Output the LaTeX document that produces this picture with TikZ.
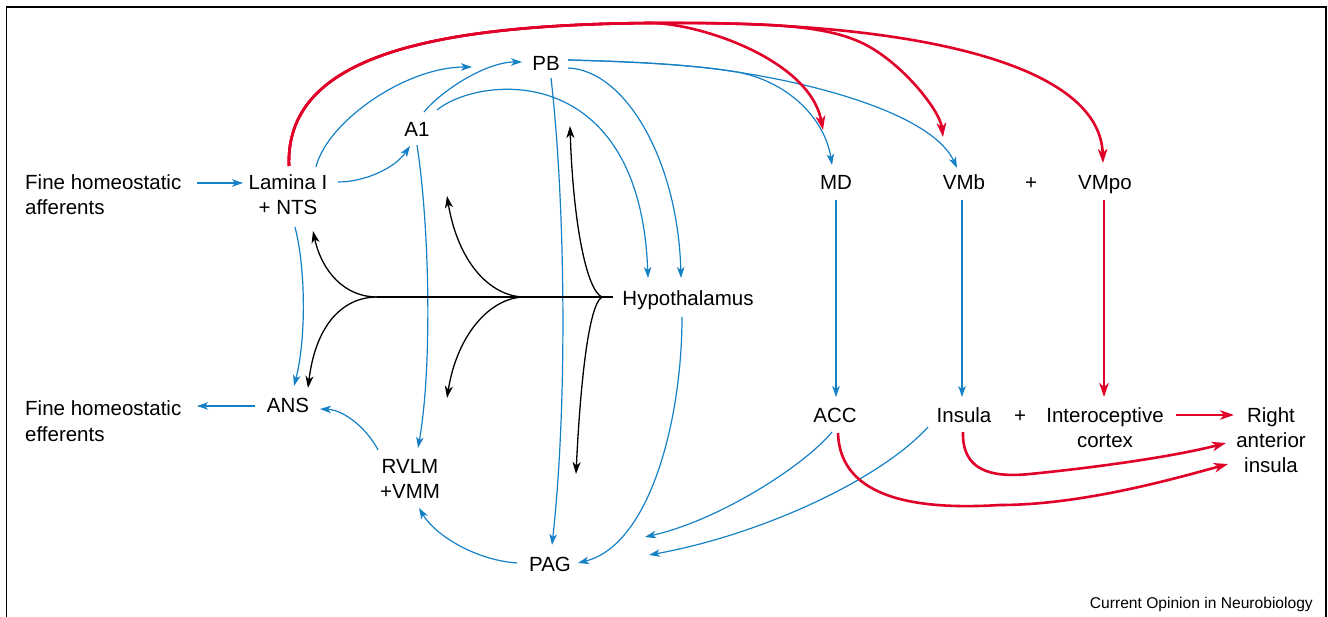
\documentclass[tikz,border=0pt]{standalone}
\usepackage{fontspec}
\setmainfont{Liberation Sans}
\usetikzlibrary{arrows.meta}
\definecolor{cblue}{RGB}{20,128,198}
\definecolor{cred}{RGB}{225,0,40}
\begin{document}
\begin{tikzpicture}[x=1pt,y=-1pt,
  lbl/.style={inner sep=0pt, font=\fontsize{20.5}{25}\selectfont, align=center},
  bl/.style={cblue, line width=1.2pt, -{Stealth[length=11pt,width=7.5pt,inset=3pt]}},
  rd/.style={cred, line width=2.6pt, -{Stealth[length=14pt,width=9.5pt,inset=4pt]}},
  bk/.style={black, line width=1.3pt, -{Stealth[length=12pt,width=8pt,inset=3.5pt]}},
  bkline/.style={black, line width=1.3pt},
  frame/.style={black, line width=1.4pt}
]
\useasboundingbox (0,0) rectangle (1328,617);
\draw[frame] (6.5,617) -- (6.5,7) -- (1326,7) -- (1326,617);

% nodes (base = baseline of the last line)
\node[lbl, align=left, anchor=base west] (fha) at (25,215) {Fine homeostatic\\afferents};
\node[lbl, anchor=base] (lam) at (288,215) {Lamina I\\+ NTS};
\node[lbl, anchor=base] (a1) at (417,137) {A1};
\node[lbl, anchor=base] (pb) at (546,71) {PB};
\node[lbl, anchor=base] (hyp) at (688,306) {Hypothalamus};
\node[lbl, anchor=base] (md) at (836,190) {MD};
\node[lbl, anchor=base] (vmb) at (964,190) {VMb};
\node[lbl, anchor=base] (plA) at (1031,190) {+};
\node[lbl, anchor=base] (vmpo) at (1105,190) {VMpo};
\node[lbl, align=left, anchor=base west] (fhe) at (25,441) {Fine homeostatic\\efferents};
\node[lbl, anchor=base] (ans) at (288,413) {ANS};
\node[lbl, anchor=base] (rvlm) at (410,498) {RVLM\\+VMM};
\node[lbl, anchor=base] (pag) at (550,571) {PAG};
\node[lbl, anchor=base] (acc) at (835,422) {ACC};
\node[lbl, anchor=base] (ins) at (964,422) {Insula};
\node[lbl, anchor=base] (plB) at (1020,422) {+};
\node[lbl, anchor=base] (intc) at (1105,447) {Interoceptive\\cortex};
\node[lbl, anchor=base] (rai) at (1271,472) {Right\\anterior\\insula};
\node[inner sep=0pt, font=\fontsize{15.6}{18}\selectfont, anchor=base east] (src) at (1313,608) {Current Opinion in Neurobiology};

% branch points and free ends of the black fan
\coordinate (j1) at (377,297);
\coordinate (j2) at (525,297);
\coordinate (j3) at (602,297);
\coordinate (k2u) at (447,196);
\coordinate (k2d) at (447,398);
\coordinate (k3u) at (570,126);
\coordinate (k3d) at (576,474);

% blue connectors
\draw[bl] ([shift={(172,-32)}]fha.base west) -- ([shift={(-45,-32)}]lam.base);
\draw[bl] ([shift={(50,-33)}]lam.base) .. controls (365,182) and (395,168) .. ([shift={(-7,9)}]a1.base);
\draw[bl] ([shift={(28,-48)}]lam.base) .. controls (327,122) and (405,67) .. ([shift={(-74,-4)}]pb.base);
\draw[bl] ([shift={(7,-25)}]a1.base) .. controls (440,92) and (485,62) .. ([shift={(-24,-9)}]pb.base);
\draw[bl] ([shift={(20,-27)}]a1.base) .. controls (480,75) and (640,60) .. ([shift={(-40,-28)}]hyp.base);
\draw[bl] ([shift={(22,-3)}]pb.base) .. controls (625,70) and (678,160) .. ([shift={(-7,-28)}]hyp.base);
\draw[bl] ([shift={(5,7)}]pb.base) .. controls (565,200) and (568,400) .. ([shift={(2,-26)}]pag.base);
\draw[bl] ([shift={(22,-11)}]pb.base) .. controls (650,62) and (700,66) .. (737,72)
   .. controls (790,82) and (825,120) .. ([shift={(-4,-25)}]md.base);
\draw[bl] ([shift={(22,-11)}]pb.base) .. controls (650,62) and (700,66) .. (737,72)
   .. controls (840,88) and (935,120) .. ([shift={(-7,-22)}]vmb.base);
\draw[bl] ([shift={(7,12)}]lam.base) .. controls (306,270) and (306,340) .. ([shift={(6,-27)}]ans.base);
\draw[bl] ([shift={(0,8)}]a1.base) .. controls (430,230) and (432,370) .. ([shift={(8,-50)}]rvlm.base);
\draw[bl] ([shift={(-33,-7)}]ans.base) -- ([shift={(172,-35)}]fhe.base west);
\draw[bl] ([shift={(-32,-48)}]rvlm.base) .. controls (368,430) and (345,410) .. ([shift={(32,-4)}]ans.base);
\draw[bl] ([shift={(-33,-8)}]pag.base) .. controls (475,560) and (435,535) .. ([shift={(9,10)}]rvlm.base);
\draw[bl] ([shift={(-6,11)}]hyp.base) .. controls (682,420) and (650,545) .. ([shift={(28,-8)}]pag.base);
\draw[bl] ([shift={(0,10)}]md.base) -- ([shift={(1,-25)}]acc.base);
\draw[bl] ([shift={(-2,10)}]vmb.base) -- ([shift={(-2,-25)}]ins.base);
\draw[bl] ([shift={(-3,10)}]acc.base) .. controls (805,465) and (720,520) .. ([shift={(95,-34)}]pag.base);
\draw[bl] ([shift={(-36,5)}]ins.base) .. controls (880,480) and (760,535) .. ([shift={(99,-16)}]pag.base);

% red connectors
\draw[rd] ([shift={(1,-49)}]lam.base) .. controls (285,60) and (420,25) .. (650,23)
   .. controls (900,20) and (1100,60) .. ([shift={(-2,-27)}]vmpo.base);
\draw[rd] ([shift={(1,-49)}]lam.base) .. controls (285,60) and (420,25) .. (650,23)
   .. controls (700,23) and (810,60) .. ([shift={(-13,-60)}]md.base);
\draw[rd] ([shift={(1,-49)}]lam.base) .. controls (285,60) and (420,25) .. (650,23)
   .. controls (760,23) and (820,24) .. (860,42)
   .. controls (900,60) and (940,110) .. ([shift={(-21,-53)}]vmb.base);
\draw[rd] ([shift={(-1,10)}]vmpo.base) -- ([shift={(-1,-50)}]intc.base);
\draw[rd] ([shift={(71,-32)}]intc.base) -- ([shift={(-37,-57)}]rai.base);
\draw[rd] ([shift={(-1,10)}]ins.base) .. controls (962,470) and (990,478) .. (1030,474)
   .. controls (1110,466) and (1180,455) .. ([shift={(-45,-29)}]rai.base);
\draw[rd] ([shift={(3,11)}]acc.base) .. controls (840,500) and (920,510) .. (1000,505)
   .. controls (1080,505) and (1170,480) .. ([shift={(-43,-8)}]rai.base);

% black fan from hypothalamus
\draw[bkline] (j1) -- ([shift={(-75,-9)}]hyp.base);
\draw[bk] (j1) .. controls (345,297) and (322,272) .. ([shift={(25,16)}]lam.base);
\draw[bk] (j1) .. controls (345,297) and (316,322) .. ([shift={(20,-25)}]ans.base);
\draw[bk] (j2) .. controls (490,297) and (458,262) .. (k2u);
\draw[bk] (j2) .. controls (490,297) and (457,335) .. (k2d);
\draw[bk] (j3) .. controls (586,290) and (573,220) .. (k3u);
\draw[bk] (j3) .. controls (588,305) and (580,390) .. (k3d);
\end{tikzpicture}
\end{document}
